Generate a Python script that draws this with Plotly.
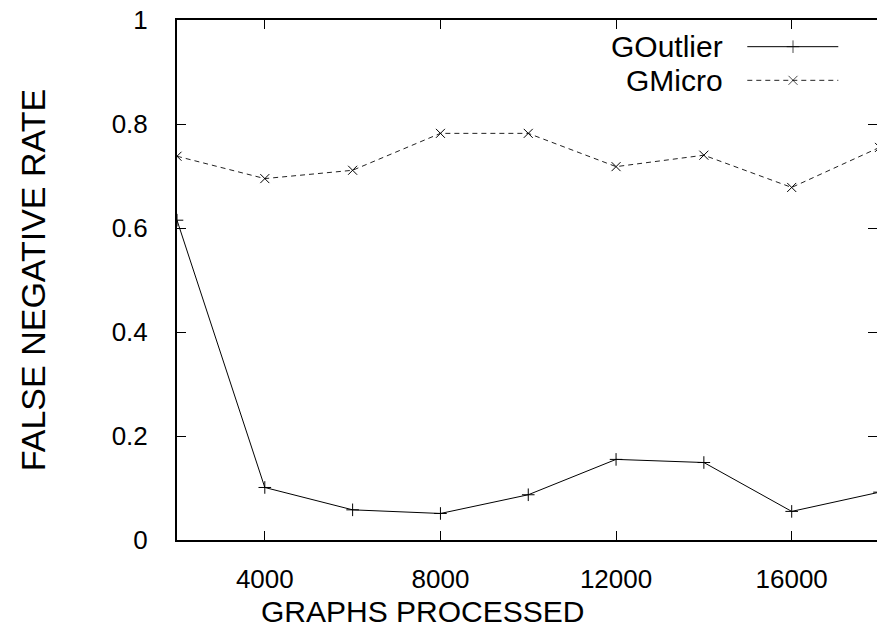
import plotly.graph_objects as go

graphs = [2000, 4000, 6000, 8000, 10000, 12000, 14000, 16000, 18000]
goutlier = [0.615, 0.101, 0.058, 0.051, 0.087, 0.155, 0.149, 0.055, 0.092]
gmicro = [0.738, 0.695, 0.711, 0.782, 0.782, 0.718, 0.740, 0.678, 0.755]
series_names = ["GOutlier", "GMicro"]
x_title = "GRAPHS PROCESSED"
y_title = "FALSE NEGATIVE RATE"

W, H = 877, 644
L, T, B = 176.7, 20.3, 103.7
FONT = "Liberation Sans, Arial, sans-serif"
FS = 30
TFS = 26

fig = go.Figure()
fig.add_trace(go.Scatter(x=graphs, y=goutlier, mode="lines+markers", name=series_names[0],
                         line=dict(color="black", width=1),
                         marker=dict(symbol="cross-thin", size=9, line=dict(color="black", width=1)),
                         showlegend=False))
fig.add_trace(go.Scatter(x=graphs, y=gmicro, mode="lines+markers", name=series_names[1],
                         line=dict(color="#222", width=1, dash="5px,4px"),
                         marker=dict(symbol="x-thin", size=9, line=dict(color="black", width=1)),
                         showlegend=False))

# legend samples drawn on an overlay axis in [0,1] coordinates
leg_x = [0.8147, 0.880, 0.9447]
rows = [0.9487, 0.884]
fig.add_trace(go.Scatter(x=leg_x, y=[rows[0]] * 3, xaxis="x3", yaxis="y3", mode="lines+markers",
                         line=dict(color="black", width=1),
                         marker=dict(symbol="cross-thin", size=[0, 9, 0], line=dict(color="black", width=1)),
                         showlegend=False, hoverinfo="skip"))
fig.add_trace(go.Scatter(x=leg_x, y=[rows[1]] * 3, xaxis="x3", yaxis="y3", mode="lines+markers",
                         line=dict(color="#222", width=1, dash="5px,4px"),
                         marker=dict(symbol="x-thin", size=[0, 9, 0], line=dict(color="black", width=1)),
                         showlegend=False, hoverinfo="skip"))
for name, ry in zip(series_names, rows):
    fig.add_annotation(x=0.783, y=ry, xref="paper", yref="paper", text=name, showarrow=False,
                       xanchor="right", yanchor="middle", font=dict(family=FONT, size=FS, color="black"))

# x axis title as annotation (placed like the reference)
fig.add_annotation(x=0.350, y=-0.138, xref="paper", yref="paper", text=x_title, showarrow=False,
                   xanchor="center", yanchor="middle", font=dict(family=FONT, size=FS, color="black"))

# right side inward ticks (border itself lies off canvas)
fig.add_trace(go.Scatter(x=[None], y=[None], yaxis="y2", showlegend=False, hoverinfo="skip"))

xr_end = 2000 + (W - L) * 4000 / 175.7
fig.update_layout(
    width=W, height=H,
    margin=dict(l=L, r=0, t=T, b=B, pad=0),
    plot_bgcolor="white", paper_bgcolor="white",
    font=dict(family=FONT, size=FS, color="black"),
    xaxis=dict(range=[2000, xr_end], tick0=0, dtick=4000, ticks="inside", ticklen=9, tickwidth=1,
               tickcolor="black", showline=True, linecolor="black", linewidth=2, mirror="ticks",
               showgrid=False, zeroline=False, tickfont=dict(size=TFS), tickformat="d",
               ticklabelstandoff=15),
    yaxis=dict(range=[0, 1], dtick=0.2, ticks="inside", ticklen=9, tickwidth=1, tickcolor="black",
               showline=True, linecolor="black", linewidth=2, mirror=False, showgrid=False,
               zeroline=False, tickformat="~g", tickfont=dict(size=TFS), ticklabelstandoff=22,
               title=dict(text=y_title, standoff=56, font=dict(size=34))),
    yaxis2=dict(range=[0, 1], dtick=0.2, overlaying="y", side="right", ticks="inside", ticklen=9,
                tickwidth=1, tickcolor="black", showticklabels=False, showline=False,
                showgrid=False, zeroline=False),
    xaxis3=dict(range=[0, 1], overlaying="x", visible=False),
    yaxis3=dict(range=[0, 1], overlaying="y", visible=False),
)
fig.write_html("out.html")
